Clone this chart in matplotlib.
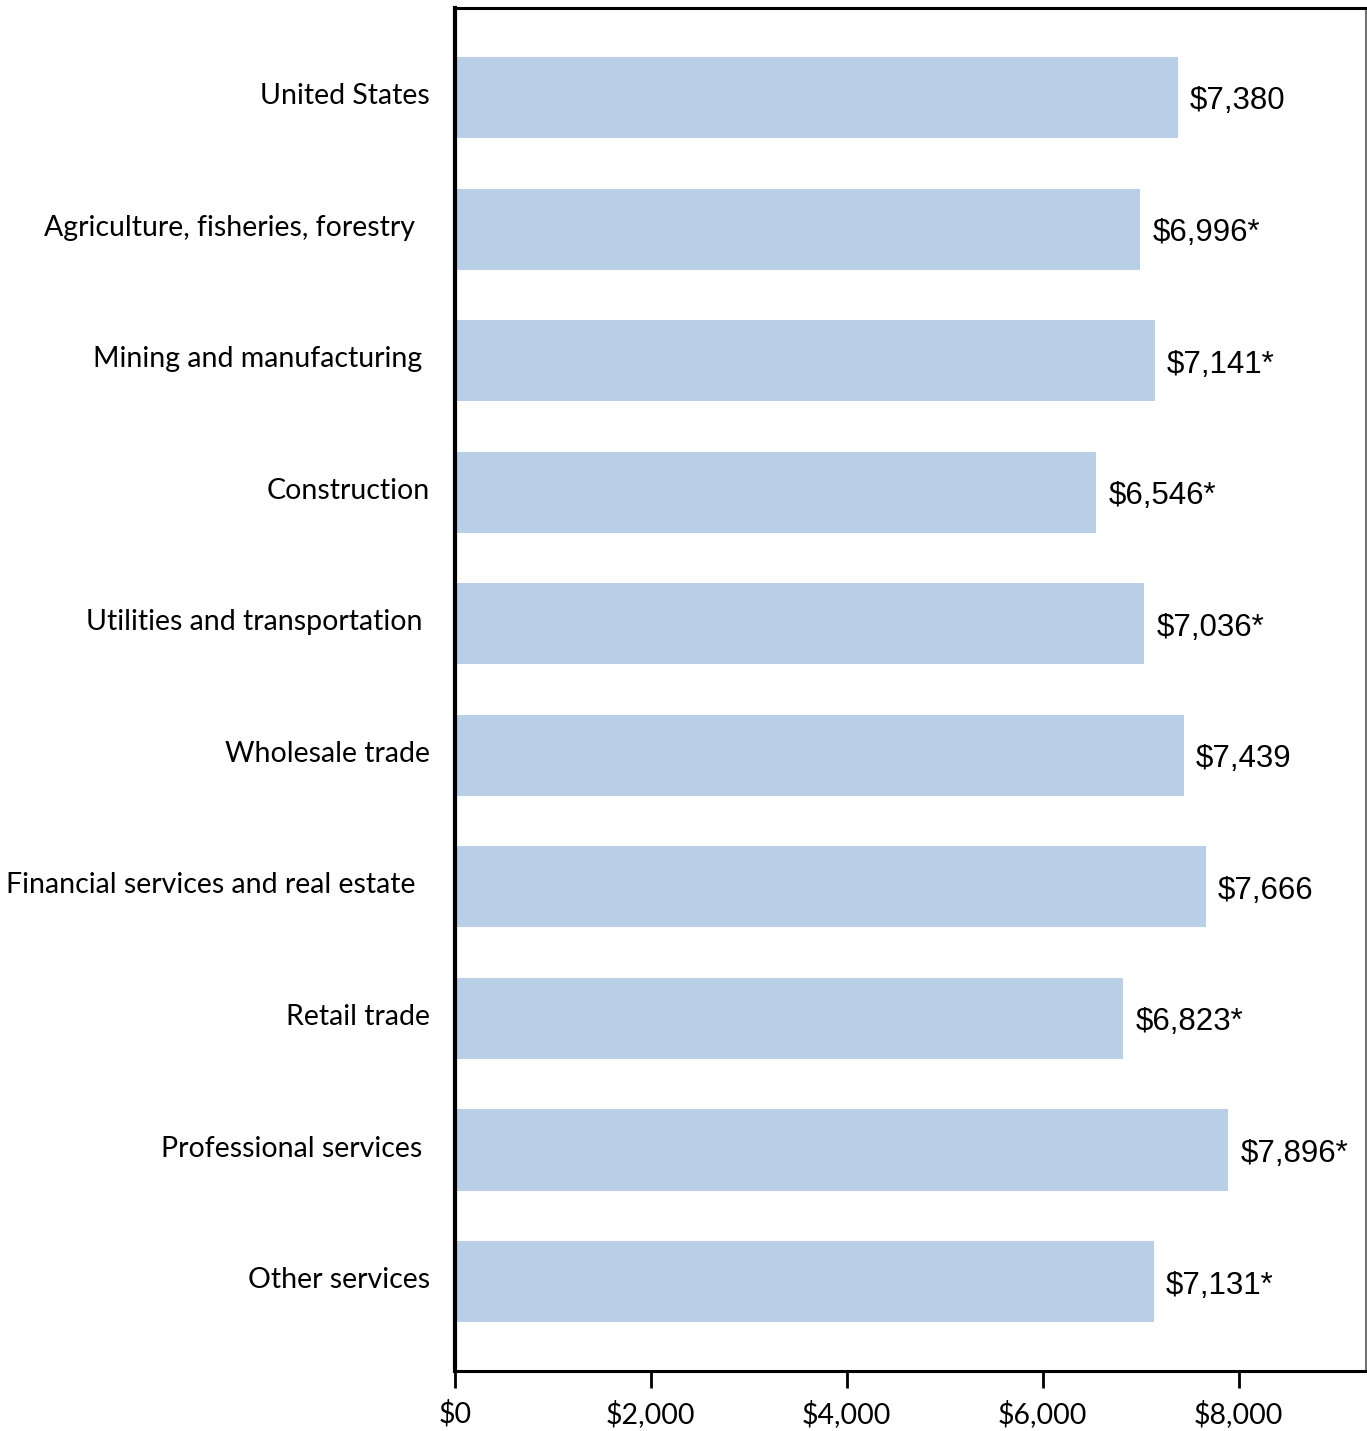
import matplotlib.pyplot as plt
import matplotlib.transforms as mtransforms
from matplotlib.ticker import FuncFormatter

# Average premium by industry
industries = ['United States', 'Agriculture, fisheries, forestry  ', 'Mining and manufacturing ',
              'Construction', 'Utilities and transportation ', 'Wholesale trade',
              'Financial services and real estate  ', 'Retail trade', 'Professional services ',
              'Other services']
values = [7380, 6996, 7141, 6546, 7036, 7439, 7666, 6823, 7896, 7131]
significant = [False, True, True, True, True, False, False, True, True, True]
xticks = [0, 2000, 4000, 6000, 8000]

label_font = 'Lato'
value_font = 'Liberation Sans'

fig = plt.figure(figsize=(13.67, 14.31), dpi=100)
ax = fig.add_axes([0.3328, 0.0419, 0.6665, 0.9525])

ypos = list(range(len(industries)))
ax.barh(ypos, values, height=0.616, color='#B8CFE7', zorder=2)

for y, v, s in zip(ypos, values, significant):
    txt = '${:,}'.format(v) + ('*' if s else '')
    ax.text(v + 125, y + 0.03, txt, va='center', ha='left',
            fontsize=22.5, family=value_font, color='black')

ax.set_ylim(len(industries) - 1 + 0.68, -0.68)
ax.set_xlim(0, 9300)

ax.set_yticks(ypos)
ax.set_yticklabels(industries, fontsize=20.5, family=label_font)
ax.tick_params(axis='y', length=0, pad=18)
shift = mtransforms.ScaledTranslation(0, 4 / 100, fig.dpi_scale_trans)
for lbl in ax.get_yticklabels():
    lbl.set_transform(lbl.get_transform() + shift)

ax.set_xticks(xticks)
ax.xaxis.set_major_formatter(FuncFormatter(lambda x, p: '${:,.0f}'.format(x)))
ax.tick_params(axis='x', direction='out', length=12, width=2, pad=9, labelsize=20.5)
for lbl in ax.get_xticklabels():
    lbl.set_family(label_font)

ax.spines['left'].set_linewidth(3)
ax.spines['bottom'].set_linewidth(2.2)
ax.spines['top'].set_linewidth(2.2)
ax.spines['right'].set_linewidth(1.2)
ax.spines['right'].set_color('#555555')

plt.savefig('out.png', dpi=100)
plt.close()
